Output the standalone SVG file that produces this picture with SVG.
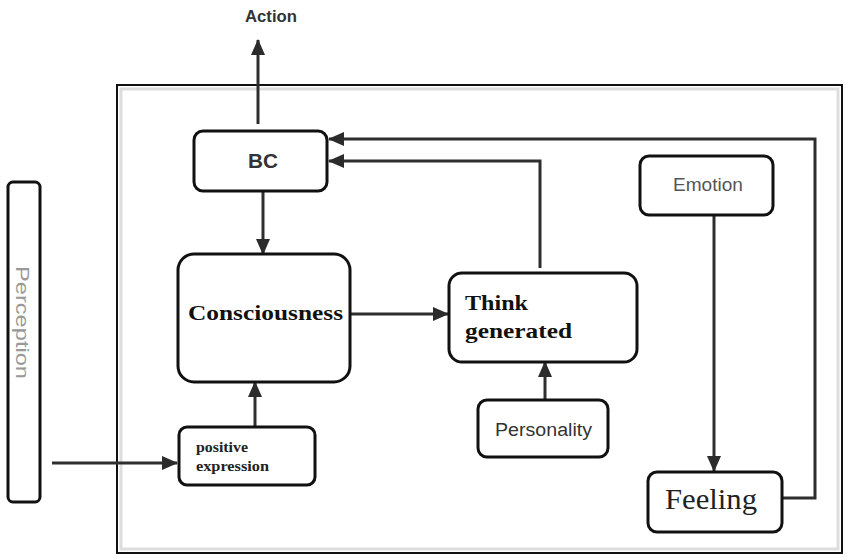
<svg xmlns="http://www.w3.org/2000/svg" width="847" height="559" viewBox="0 0 847 559">
<defs>
<marker id="ahl" markerWidth="16" markerHeight="16" refX="15" refY="8" orient="auto" markerUnits="userSpaceOnUse" viewBox="0 0 16 16">
<path d="M0,1 L16,8 L0,15 z" fill="#2b2b2b"/>
</marker>
</defs>
<style>
.box{fill:#fff;stroke:#111;stroke-width:3}
.conn{fill:none;stroke:#2e2e2e;stroke-width:3;marker-end:url(#ahl)}
.sans{font-family:"Liberation Sans",Arial,sans-serif}
.serif{font-family:"Liberation Serif","Times New Roman",serif}
</style>
<rect width="847" height="559" fill="#fff"/>
<g id="frame">
<rect x="121" y="89" width="717" height="460" fill="none" stroke="#ddd" stroke-width="3"/>
<rect x="117" y="85" width="725" height="468" fill="none" stroke="#111" stroke-width="2"/>
</g>
<g id="connectors">
<line class="conn" x1="258" y1="124" x2="258" y2="40"/>
<line class="conn" x1="263" y1="191" x2="263" y2="254"/>
<line class="conn" x1="255" y1="427" x2="255" y2="382"/>
<line class="conn" x1="52" y1="463" x2="177" y2="463"/>
<line class="conn" x1="350" y1="314" x2="448" y2="314"/>
<line class="conn" x1="545" y1="400" x2="545" y2="362"/>
<polyline class="conn" points="540,268 540,161 329,161"/>
<polyline class="conn" points="783,498 815,498 815,139 329,139"/>
<line class="conn" x1="714" y1="215" x2="714" y2="471"/>
</g>
<g id="perception">
<rect class="box" x="8" y="182" width="32" height="320" rx="5"/>
<text class="sans" x="266" y="-22" font-size="18" fill="#999" dominant-baseline="central" textLength="113" lengthAdjust="spacingAndGlyphs" transform="rotate(90)">Perception</text>
</g>
<g id="action">
<text class="sans" x="245" y="22" font-size="17" font-weight="bold" fill="#333" textLength="52" lengthAdjust="spacingAndGlyphs">Action</text>
</g>
<g id="bc">
<rect class="box" x="194" y="131" width="133" height="60" rx="9"/>
<text class="sans" x="248" y="168" font-size="20" font-weight="bold" fill="#333" textLength="30" lengthAdjust="spacingAndGlyphs">BC</text>
</g>
<g id="consciousness">
<rect class="box" x="178" y="254" width="172" height="128" rx="16"/>
<text class="serif" x="188" y="320" font-size="21" font-weight="bold" fill="#111" textLength="155" lengthAdjust="spacingAndGlyphs">Consciousness</text>
</g>
<g id="positive-expression">
<rect class="box" x="179" y="427" width="136" height="58" rx="8"/>
<text class="serif" x="196" y="452" font-size="14" font-weight="bold" fill="#222" textLength="52" lengthAdjust="spacingAndGlyphs">positive</text>
<text class="serif" x="196" y="471" font-size="14" font-weight="bold" fill="#222" textLength="73" lengthAdjust="spacingAndGlyphs">expression</text>
</g>
<g id="think-generated">
<rect class="box" x="449" y="273" width="188" height="89" rx="13"/>
<text class="serif" x="465" y="310" font-size="22" font-weight="bold" fill="#111" textLength="63" lengthAdjust="spacingAndGlyphs">Think</text>
<text class="serif" x="465" y="338" font-size="22" font-weight="bold" fill="#111" textLength="107" lengthAdjust="spacingAndGlyphs">generated</text>
</g>
<g id="personality">
<rect class="box" x="478" y="400" width="130" height="57" rx="9"/>
<text class="sans" x="495" y="436" font-size="18" fill="#333" textLength="97" lengthAdjust="spacingAndGlyphs">Personality</text>
</g>
<g id="emotion">
<rect class="box" x="640" y="156" width="133" height="59" rx="9"/>
<text class="sans" x="673" y="191" font-size="18" fill="#555" textLength="70" lengthAdjust="spacingAndGlyphs">Emotion</text>
</g>
<g id="feeling">
<rect class="box" x="648" y="472" width="134" height="60" rx="9"/>
<text class="serif" x="665" y="509" font-size="29" fill="#222" textLength="92" lengthAdjust="spacingAndGlyphs">Feeling</text>
</g>
</svg>
